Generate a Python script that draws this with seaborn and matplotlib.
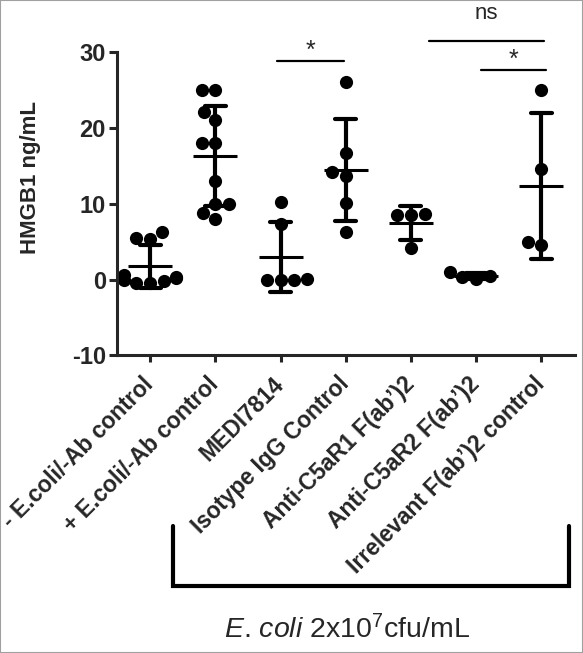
import numpy as np
import pandas as pd
import matplotlib
matplotlib.use("Agg")
import matplotlib.pyplot as plt
import seaborn as sns

# Groups (x categories)
groups = ["- E.coli/-Ab control", "+ E.coli/-Ab control", "MEDI7814",
          "Isotype IgG Control", "Anti-C5aR1 F(ab\u2019)2",
          "Anti-C5aR2 F(ab\u2019)2", "Irrelevant F(ab\u2019)2 control"]

# HMGB1 values (ng/mL)
neg_ctrl = [5.5, 5.4, 6.3, 0.6, 0.3, 0.0, -0.2, -0.4, 0.2, -0.5]
pos_ctrl = [25.0, 25.0, 22.0, 21.0, 18.0, 18.0, 13.0, 10.0, 10.0, 8.8, 8.0]
medi7814 = [10.2, 7.3, 0.0, 0.1, -0.1, 0.0]
isotype = [26.0, 16.6, 13.6, 14.1, 10.1, 6.2]
c5ar1 = [8.5, 8.6, 8.5, 4.1]
c5ar2 = [0.1, 0.3, 0.4, 1.0]
irrelevant = [25.0, 14.6, 4.6, 5.0]

all_vals = [neg_ctrl, pos_ctrl, medi7814, isotype, c5ar1, c5ar2, irrelevant]

df = pd.DataFrame({
    "group": np.repeat(groups, [len(v) for v in all_vals]),
    "value": np.concatenate(all_vals),
})

# significance annotations: (x start, x end, line y, label, label y)
sig_marks = [
    (1.94, 2.98, 28.8, "*", 28.5),
    (4.28, 6.05, 31.4, "ns", 33.6),
    (5.08, 6.08, 27.6, "*", 27.3),
]

sns.set_style("ticks")
plt.rcParams["font.family"] = ["Liberation Sans", "DejaVu Sans"]
plt.rcParams["axes.unicode_minus"] = False
plt.rcParams["mathtext.fontset"] = "custom"
plt.rcParams["mathtext.rm"] = "Liberation Sans"
plt.rcParams["mathtext.it"] = "Liberation Sans:italic"

fig = plt.figure(figsize=(5.83, 6.53), dpi=100)
ax = fig.add_axes([0.2007, 0.4556, 0.7856, 0.5444])

sns.swarmplot(data=df, x="group", y="value", order=groups, color="black",
              size=9.5, ax=ax, zorder=2)
sns.pointplot(data=df, x="group", y="value", order=groups, errorbar="sd",
              color="black", marker="_", markersize=31, markeredgewidth=2.2,
              linestyle="none", capsize=0.32, err_kws={"linewidth": 3},
              ax=ax, zorder=3)

ax.set_xlim(-0.51, 6.52)
ax.set_ylim(-10, 36.8)
ax.set_yticks([-10, 0, 10, 20, 30])
sns.despine(ax=ax)
ax.spines["left"].set_bounds(-10, 30)
for s in ["left", "bottom"]:
    ax.spines[s].set_linewidth(2.2)

ax.tick_params(axis="y", length=6, width=2.2, pad=2, labelsize=17)
ax.tick_params(axis="x", length=5, width=2.2, pad=13, labelsize=16.5)
for lab in ax.get_yticklabels():
    lab.set_fontweight("bold")
ax.set_xticks(range(len(groups)))
ax.set_xticklabels(groups, rotation=45, ha="right", va="center",
                   rotation_mode="anchor", fontweight="bold")

ax.set_xlabel("")
ax.set_ylabel("HMGB1 ng/mL", fontsize=16, fontweight="bold")
ax.yaxis.set_label_coords(-0.165, 0.5)

for x0, x1, y, txt, ty in sig_marks:
    ax.plot([x0, x1], [y, y], color="black", linewidth=1.6, clip_on=False)
    ax.text((x0 + x1) / 2, ty, txt, ha="center", va="bottom",
            fontsize=16 if txt == "ns" else 18, clip_on=False)

# bracket grouping the E. coli treated samples
ax.plot([0.354, 0.354, 6.43, 6.43], [-32.5, -40.4, -40.4, -32.5],
        color="black", linewidth=3, clip_on=False, solid_joinstyle="miter")

fig.text(0.595, 0.023, r"$\mathit{E}$. $\mathit{coli}$ 2x10$^{7}$cfu/mL",
         ha="center", va="baseline", fontsize=20.5)

fig.add_artist(plt.Rectangle((0, 0), 1, 1, transform=fig.transFigure,
                             fill=False, edgecolor="#a0a0a0", linewidth=1.5))

fig.savefig("out.png", dpi=100)
